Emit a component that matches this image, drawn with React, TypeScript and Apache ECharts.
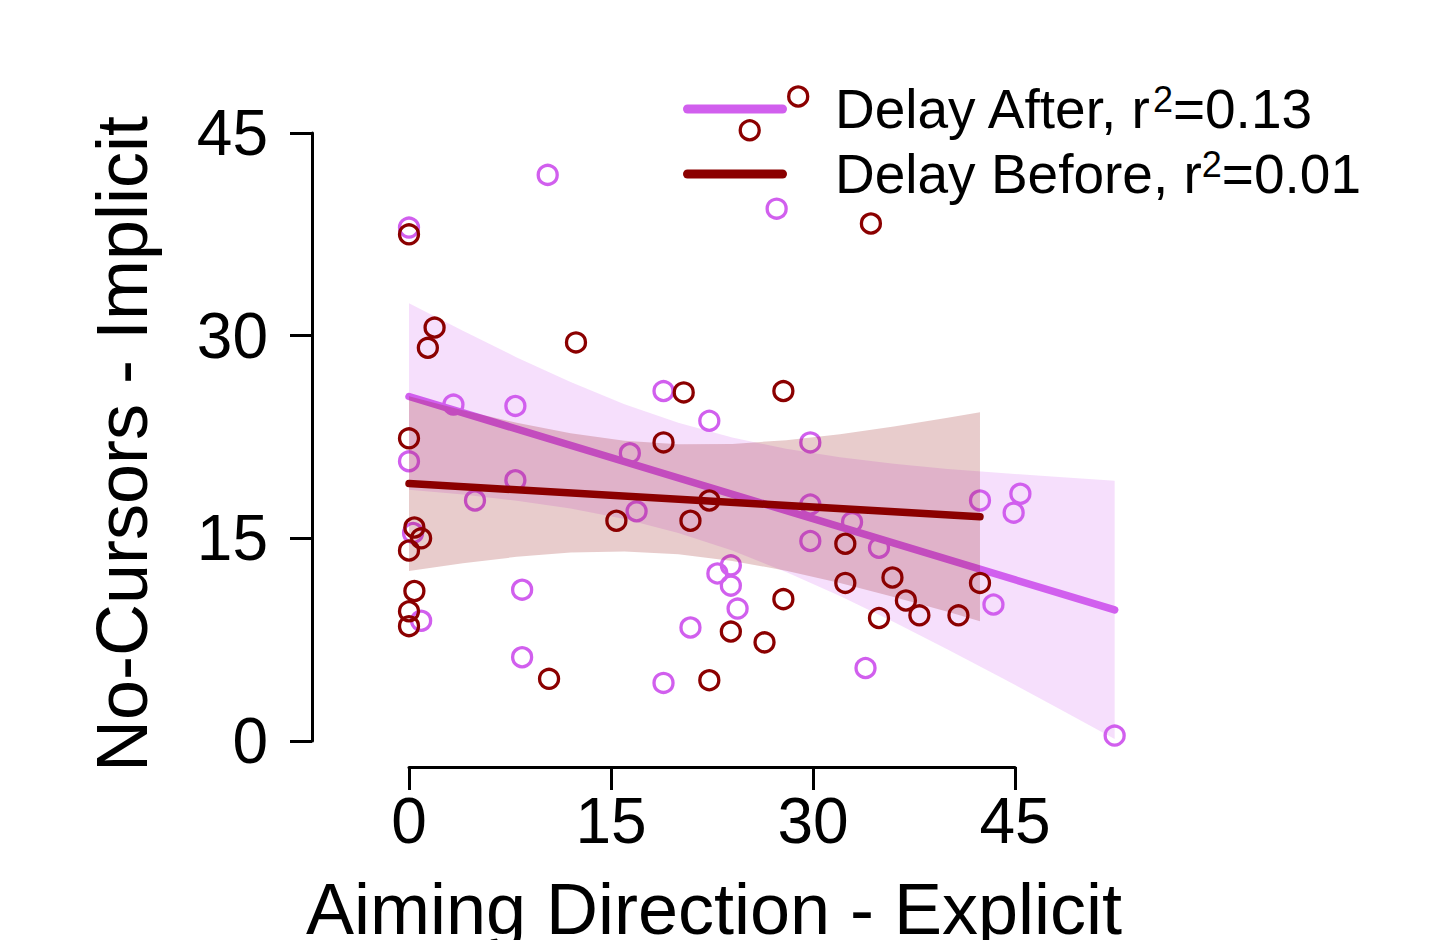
import React, { useEffect, useRef } from "react";
import * as echarts from "echarts";

const FONT = '"Liberation Sans", Arial, Helvetica, sans-serif';

// Scatter data: Delay After (orchid) and Delay Before (dark red)
const afterX = [10.3, 0, 27.3, 3.3, 7.9, 0, 7.9, 4.9, 0.3, 8.4, 0.9, 8.4, 18.9, 22.3, 29.8, 16.4, 29.8, 16.9, 32.9, 29.8, 23.9, 22.9, 23.9, 24.4, 20.9, 18.9, 34.9, 42.4, 45.4, 44.9, 43.4, 33.9, 52.4];
const afterY = [41.9, 38.0, 39.4, 24.9, 24.8, 20.7, 19.3, 17.8, 15.4, 11.2, 8.9, 6.2, 25.9, 23.7, 22.1, 21.3, 17.5, 17.0, 16.2, 14.8, 13.0, 12.4, 11.5, 9.8, 8.4, 4.3, 14.3, 17.8, 18.3, 16.9, 10.1, 5.4, 0.4];

const beforeX = [0, 1.9, 1.4, 12.4, 0, 15.4, 0.4, 0.9, 0, 0.4, 0, 0, 10.4, 20.4, 27.8, 18.9, 22.3, 20.9, 32.4, 32.4, 27.8, 23.9, 26.4, 22.3, 35.9, 36.9, 37.9, 34.9, 40.8, 42.4, 34.3, 28.9, 25.3];
const beforeY = [37.5, 30.6, 29.1, 29.5, 22.4, 16.3, 15.8, 15.0, 14.1, 11.1, 9.6, 8.5, 4.6, 25.8, 25.9, 22.1, 17.8, 16.3, 14.6, 11.7, 10.5, 8.1, 7.3, 4.5, 12.1, 10.4, 9.3, 9.1, 9.3, 11.7, 38.3, 47.7, 45.2];

// Fitted regression lines
const afterFitX = [0, 52.4];
const afterFitY = [25.5, 9.7];
const beforeFitX = [0, 42.4];
const beforeFitY = [19.05, 16.6];

// Confidence bands
const afterBandX = [0, 4, 8, 12, 16, 20, 24, 28, 32, 36, 40, 44, 48, 52.4];
const afterBandLo = [18.6, 18.24, 17.79, 17.21, 16.43, 15.4, 14.1, 12.51, 10.74, 8.8, 6.78, 4.69, 2.54, 0.14];
const afterBandHi = [32.4, 30.36, 28.39, 26.57, 24.93, 23.56, 22.46, 21.63, 21.0, 20.52, 20.14, 19.83, 19.56, 19.26];

const beforeBandX = [0, 4, 8, 12, 16, 20, 24, 28, 32, 36, 40, 42.4];
const beforeBandLo = [12.58, 13.16, 13.63, 13.95, 14.03, 13.82, 13.33, 12.6, 11.69, 10.66, 9.56, 8.87];
const beforeBandHi = [25.52, 24.48, 23.55, 22.77, 22.23, 21.96, 21.99, 22.26, 22.71, 23.28, 23.92, 24.33];

const seriesNames = ["Delay After", "Delay Before"];
const r2Labels = ["0.13", "0.01"];
const colors = ["#D15FEE", "#8B0000"];
const bandColors = ["rgba(209,95,238,0.2)", "rgba(139,0,0,0.2)"];

const xTitle = "Aiming Direction - Explicit";
const yTitle = "No-Cursors - Implicit";

function bandSeries(name: string, xs: number[], lo: number[], hi: number[], color: string, z: number) {
  return {
    type: "custom",
    name: name + " CI",
    xAxisIndex: 0,
    yAxisIndex: 0,
    z,
    silent: true,
    data: xs.map((x, i) => [x, lo[i], hi[i]]),
    encode: { x: 0, y: [1, 2] },
    renderItem: (params: any, api: any) => {
      if (params.dataIndex !== 0) return null;
      const pts: number[][] = [];
      for (let i = 0; i < xs.length; i++) pts.push(api.coord([xs[i], hi[i]]));
      for (let i = xs.length - 1; i >= 0; i--) pts.push(api.coord([xs[i], lo[i]]));
      return { type: "polygon", shape: { points: pts }, style: { fill: color } };
    },
  };
}

function lineSeries(name: string, xs: number[], ys: number[], color: string, z: number) {
  return {
    type: "line",
    name,
    xAxisIndex: 0,
    yAxisIndex: 0,
    z,
    showSymbol: false,
    symbol: "none",
    silent: true,
    data: xs.map((x, i) => [x, ys[i]]),
    itemStyle: { color },
    lineStyle: { color, width: 7.5, cap: "round" },
  };
}

function scatterSeries(name: string, xs: number[], ys: number[], color: string, z: number) {
  return {
    type: "scatter",
    name: name + " points",
    xAxisIndex: 0,
    yAxisIndex: 0,
    z,
    clip: true,
    symbol: "circle",
    symbolSize: 19,
    silent: true,
    data: xs.map((x, i) => [x, ys[i]]),
    itemStyle: { color: "rgba(0,0,0,0)", borderColor: color, borderWidth: 3.3, opacity: 1 },
  };
}

// pixel geometry
const PX_X = 606 / 45;
const PX_Y = 608 / 45;
const X0 = 409;
const Y0 = 741;
const dataXMin = -3;
const dataXMax = 52.4;
const dataYMin = -2;
const dataYMax = 50;

export default function App() {
  const ref = useRef<HTMLDivElement>(null);
  useEffect(() => {
    if (!ref.current) return;
    const chart = echarts.init(ref.current, null, { renderer: "svg" });
    const axisBlack = { color: "#000", width: 3 };
    const option: any = {
      animation: false,
      backgroundColor: "#fff",
      grid: [
        {
          left: X0 + dataXMin * PX_X,
          width: (dataXMax - dataXMin) * PX_X,
          top: Y0 - dataYMax * PX_Y,
          height: (dataYMax - dataYMin) * PX_Y,
          outerBoundsMode: "none",
          containLabel: false,
        },
        { left: X0, width: 45 * PX_X, top: 700, height: 67, outerBoundsMode: "none", containLabel: false },
        { left: 312, width: 10, top: Y0 - 45 * PX_Y, height: 45 * PX_Y, outerBoundsMode: "none", containLabel: false },
      ],
      xAxis: [
        { type: "value", gridIndex: 0, min: dataXMin, max: dataXMax, show: false },
        {
          type: "value",
          gridIndex: 1,
          min: 0,
          max: 45,
          interval: 15,
          position: "bottom",
          axisLine: { show: true, lineStyle: axisBlack },
          axisTick: { show: true, length: 23, inside: false, lineStyle: axisBlack },
          axisLabel: { show: true, fontSize: 64, color: "#000", fontFamily: FONT, margin: 22, showMinLabel: true, showMaxLabel: true },
          splitLine: { show: false },
          name: xTitle,
          nameLocation: "middle",
          nameGap: 106,
          nameTextStyle: { fontSize: 72, color: "#000", fontFamily: FONT, padding: [0, 0, 0, 4] },
        },
        { type: "value", gridIndex: 2, show: false },
      ],
      yAxis: [
        { type: "value", gridIndex: 0, min: dataYMin, max: dataYMax, show: false },
        { type: "value", gridIndex: 1, show: false },
        {
          type: "value",
          gridIndex: 2,
          min: 0,
          max: 45,
          interval: 15,
          position: "left",
          axisLine: { show: true, lineStyle: axisBlack },
          axisTick: { show: true, length: 22, inside: false, lineStyle: axisBlack },
          axisLabel: { show: true, fontSize: 64, color: "#000", fontFamily: FONT, margin: 44, showMinLabel: true, showMaxLabel: true },
          splitLine: { show: false },
          name: yTitle,
          nameLocation: "middle",
          nameRotate: 90,
          nameGap: 154,
          nameTextStyle: { fontSize: 72, color: "#000", fontFamily: FONT, padding: [0, 14, 0, 0] },
        },
      ],
      legend: {
        show: true,
        orient: "vertical",
        left: 683,
        top: 81,
        padding: 0,
        itemWidth: 104,
        itemHeight: 9,
        itemGap: 9,
        selectedMode: false,
        icon: "path://M4.5,0 L99.5,0 A4.5,4.5 0 0 1 99.5,9 L4.5,9 A4.5,4.5 0 0 1 4.5,0 Z",
        data: seriesNames,
        formatter: (name: string) => {
          const i = seriesNames.indexOf(name);
          return `{a|${name}, r}{s|2}{b|=${r2Labels[i]}}`;
        },
        textStyle: {
          color: "#000",
          fontFamily: FONT,
          fontSize: 55,
          lineHeight: 56,
          rich: {
            a: { fontSize: 55, lineHeight: 56, color: "#000", fontFamily: FONT, padding: [0, 0, 0, 43] },
            s: { fontSize: 36, lineHeight: 30, verticalAlign: "top", color: "#000", fontFamily: FONT },
            b: { fontSize: 55, lineHeight: 56, color: "#000", fontFamily: FONT },
          },
        },
      },
      series: [
        bandSeries(seriesNames[0], afterBandX, afterBandLo, afterBandHi, bandColors[0], 1),
        lineSeries(seriesNames[0], afterFitX, afterFitY, colors[0], 2),
        scatterSeries(seriesNames[0], afterX, afterY, colors[0], 3),
        bandSeries(seriesNames[1], beforeBandX, beforeBandLo, beforeBandHi, bandColors[1], 4),
        lineSeries(seriesNames[1], beforeFitX, beforeFitY, colors[1], 5),
        scatterSeries(seriesNames[1], beforeX, beforeY, colors[1], 6),
      ],
    };
    chart.setOption(option);
    return () => chart.dispose();
  }, []);
  return (
    <div
      ref={ref}
      style={{ position: "absolute", left: 0, top: 0, width: 1430, height: 940, background: "#fff" }}
    />
  );
}
